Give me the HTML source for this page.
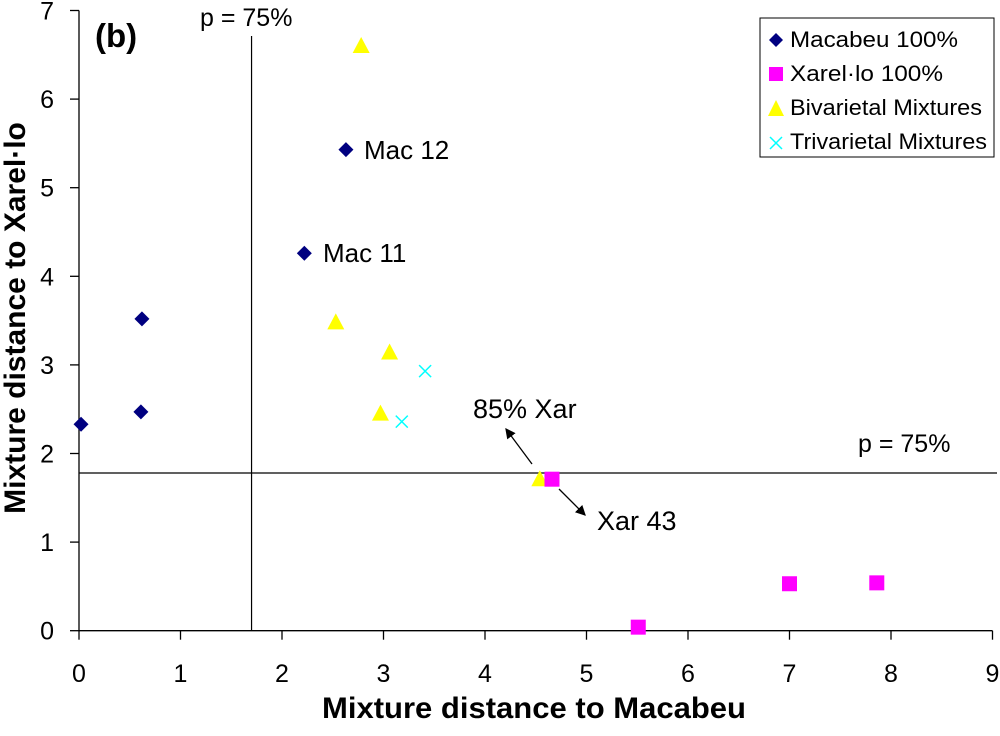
<!DOCTYPE html>
<html><head><meta charset="utf-8"><style>
body{margin:0;background:#fff}
svg text{font-family:"Liberation Sans",Arial,sans-serif}
</style></head><body>
<svg id="chart" width="1000" height="731" xmlns="http://www.w3.org/2000/svg">
<g id="axes"></g><g id="marks"></g>
<text x="95" y="47" font-size="33" font-weight="bold">(b)</text>
<text x="534" y="718" font-size="30" font-weight="bold" text-anchor="middle" textLength="424" lengthAdjust="spacingAndGlyphs">Mixture distance to Macabeu</text>
<text transform="translate(25,318) rotate(-90)" font-size="30" font-weight="bold" text-anchor="middle">Mixture distance to Xarel·lo</text>
<text x="200" y="26" font-size="25">p = 75%</text>
<text x="858" y="452" font-size="25">p = 75%</text>
<text x="364" y="159" font-size="26">Mac 12</text>
<text x="323" y="262" font-size="26">Mac 11</text>
<text x="473" y="418" font-size="27">85% Xar</text>
<text x="597" y="530" font-size="27">Xar 43</text>
<defs><marker id="ah" markerWidth="8" markerHeight="8" refX="7" refY="4" orient="auto"><path d="M0,0 L8,4 L0,8 z" fill="#000"/></marker></defs>
<line x1="532" y1="464" x2="506" y2="429" stroke="#000" stroke-width="1.3" marker-end="url(#ah)"/>
<line x1="559" y1="489" x2="585" y2="515" stroke="#000" stroke-width="1.3" marker-end="url(#ah)"/>
<g>
<rect x="760" y="18" width="234" height="139" fill="#fff" stroke="#000" stroke-width="1"/>
<path d="M776,33 L783,40 L776,47 L769,40 z" fill="#000080"/>
<text x="790" y="47" font-size="22" textLength="168" lengthAdjust="spacingAndGlyphs">Macabeu 100%</text>
<rect x="769" y="67" width="14" height="14" fill="#ff00ff"/>
<text x="790" y="81" font-size="22" textLength="153" lengthAdjust="spacingAndGlyphs">Xarel·lo 100%</text>
<path d="M776,100 L784,116 L768,116 z" fill="#ffff00"/>
<text x="790" y="115" font-size="22" textLength="192" lengthAdjust="spacingAndGlyphs">Bivarietal Mixtures</text>
<path d="M770,137 L782,149 M782,137 L770,149" stroke="#00ffff" stroke-width="1.5"/>
<text x="790" y="149" font-size="22" textLength="197" lengthAdjust="spacingAndGlyphs">Trivarietal Mixtures</text>
</g>
</svg>
<script>
const macX=[0.02,0.61,0.62,2.22,2.63];
const macY=[2.33,2.47,3.52,4.26,5.43];
const xarX=[4.66,5.51,7.0,7.86];
const xarY=[1.71,0.04,0.53,0.54];
const biX=[2.78,2.53,3.06,2.97,4.54];
const biY=[6.6,3.48,3.14,2.45,1.71];
const triX=[3.41,3.18];
const triY=[2.93,2.36];
const xTicks=[0,1,2,3,4,5,6,7,8,9];
const yTicks=[0,1,2,3,4,5,6,7];
const vThresh=1.7, hThresh=1.78;
const X0=79,XW=101.5,Y0=630.7,YH=88.6;
const sx=v=>X0+v*XW, sy=v=>Y0-v*YH;
const NS="http://www.w3.org/2000/svg";
const axes=document.getElementById('axes'), marks=document.getElementById('marks');
function mk(tag,attrs,parent){const e=document.createElementNS(NS,tag);for(const k in attrs)e.setAttribute(k,attrs[k]);parent.appendChild(e);return e;}
let l=mk('line',{x1:X0,y1:Y0,x2:sx(9),y2:Y0,stroke:'#000','stroke-width':1.3},axes);


l=mk('line',{x1:X0,y1:Y0,x2:X0,y2:sy(7),stroke:'#000','stroke-width':1.3},axes);


xTicks.forEach(t=>{mk('line',{x1:sx(t),y1:Y0,x2:sx(t),y2:Y0+9,stroke:'#000','stroke-width':1.3},axes);
 const tx=mk('text',{x:sx(t),y:682,'font-size':25,'text-anchor':'middle'},axes);tx.textContent=t;
 
 });
yTicks.forEach(t=>{mk('line',{x1:X0-9,y1:sy(t),x2:X0,y2:sy(t),stroke:'#000','stroke-width':1.3},axes);
 const tx=mk('text',{x:54,y:sy(t)+9,'font-size':25,'text-anchor':'end'},axes);tx.textContent=t;
 
 });
l=mk('line',{x1:sx(vThresh),y1:36,x2:sx(vThresh),y2:Y0,stroke:'#000','stroke-width':1.2},axes);


l=mk('line',{x1:X0,y1:sy(hThresh),x2:997,y2:sy(hThresh),stroke:'#000','stroke-width':1.2},axes);


biX.forEach((v,i)=>{const x=sx(v),y=sy(biY[i]);const e=mk('path',{d:`M${x},${y-9} L${x+8.5},${y+7} L${x-8.5},${y+7} z`,fill:'#ffff00'},marks);
 
 });
macX.forEach((v,i)=>{const x=sx(v),y=sy(macY[i]);const e=mk('path',{d:`M${x},${y-7.5} L${x+7.5},${y} L${x},${y+7.5} L${x-7.5},${y} z`,fill:'#000080'},marks);
 
 });
xarX.forEach((v,i)=>{const x=sx(v),y=sy(xarY[i]);const e=mk('rect',{x:x-7.5,y:y-7.5,width:15,height:15,fill:'#ff00ff'},marks);
 
 });
triX.forEach((v,i)=>{const x=sx(v),y=sy(triY[i]);const e=mk('path',{d:`M${x-6},${y-6} L${x+6},${y+6} M${x+6},${y-6} L${x-6},${y+6}`,stroke:'#00ffff','stroke-width':1.5},marks);
 
 });
</script>
</body></html>
